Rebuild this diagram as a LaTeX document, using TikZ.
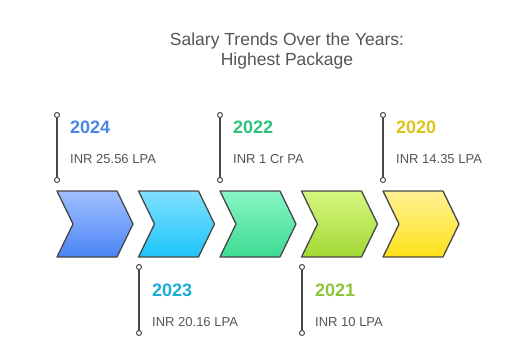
\documentclass[tikz,border=0pt]{standalone}
\usepackage{fontspec}
\setmainfont{Liberation Sans}
\definecolor{edge}{HTML}{474747}
\definecolor{txt}{HTML}{555555}
\definecolor{topA}{HTML}{A0C0FF}\definecolor{botA}{HTML}{4C84F5}
\definecolor{topB}{HTML}{80E0FF}\definecolor{botB}{HTML}{1CC4FA}
\definecolor{topC}{HTML}{88F5C4}\definecolor{botC}{HTML}{3DDB92}
\definecolor{topD}{HTML}{D6F780}\definecolor{botD}{HTML}{A2D935}
\definecolor{topE}{HTML}{FFF194}\definecolor{botE}{HTML}{FFE21A}
\definecolor{yrA}{HTML}{4A86E8}
\definecolor{yrB}{HTML}{1AAED6}
\definecolor{yrC}{HTML}{2EC27E}
\definecolor{yrD}{HTML}{8CC43C}
\definecolor{yrE}{HTML}{DEC31A}
\tikzset{
  chev/.style={draw=edge,line width=1.3pt,line join=round},
  dot/.style={circle,draw=edge,fill=white,line width=1pt,inner sep=0pt,minimum size=5pt},
  stem/.style={draw=edge,line width=1.3pt},
  year/.style={anchor=west,inner sep=0pt,font=\fontsize{18}{21}\selectfont\bfseries},
  amount/.style={anchor=west,inner sep=0pt,text=txt,font=\fontsize{13}{15}\selectfont}
}
\begin{document}
\begin{tikzpicture}[x=1pt,y=-1pt]
\useasboundingbox (0,0) rectangle (525,360);
\node[align=center,text=txt,font=\fontsize{17.5}{20}\selectfont] (title) at (287,51)
  {Salary Trends Over the Years:\\Highest Package};
% chevrons
\foreach \i/\ct/\cb in {0/topA/botA,1/topB/botB,2/topC/botC,3/topD/botD,4/topE/botE}{
  \pgfmathsetmacro\xx{57+81.5*\i}
  \draw[chev,top color=\ct,bottom color=\cb] (\xx,191) -- ++(60,0) -- ++(16,33)
    -- ++(-16,33) -- ++(-60,0) -- ++(16,-33) -- cycle;
}
% milestones above
\foreach \n/\xx/\yr/\amt/\cl in {a/57/2024/INR 25.56 LPA/yrA,c/220/2022/INR 1 Cr PA/yrC,e/383/2020/INR 14.35 LPA/yrE}{
  \node[dot] (\n1) at (\xx,115) {};
  \node[dot] (\n2) at (\xx,180) {};
  \draw[stem] (\n1) -- (\n2);
  \node[year,text=\cl] (\n y) at (\xx+13,127) {\yr};
  \node[amount] (\n t) at (\xx+13,159) {\amt};
}
% milestones below
\foreach \n/\xx/\yr/\amt/\cl in {b/139/2023/INR 20.16 LPA/yrB,d/302/2021/INR 10 LPA/yrD}{
  \node[dot] (\n1) at (\xx,267) {};
  \node[dot] (\n2) at (\xx,333) {};
  \draw[stem] (\n1) -- (\n2);
  \node[year,text=\cl] (\n y) at (\xx+13,290) {\yr};
  \node[amount] (\n t) at (\xx+13,322) {\amt};
}
\end{tikzpicture}
\end{document}
